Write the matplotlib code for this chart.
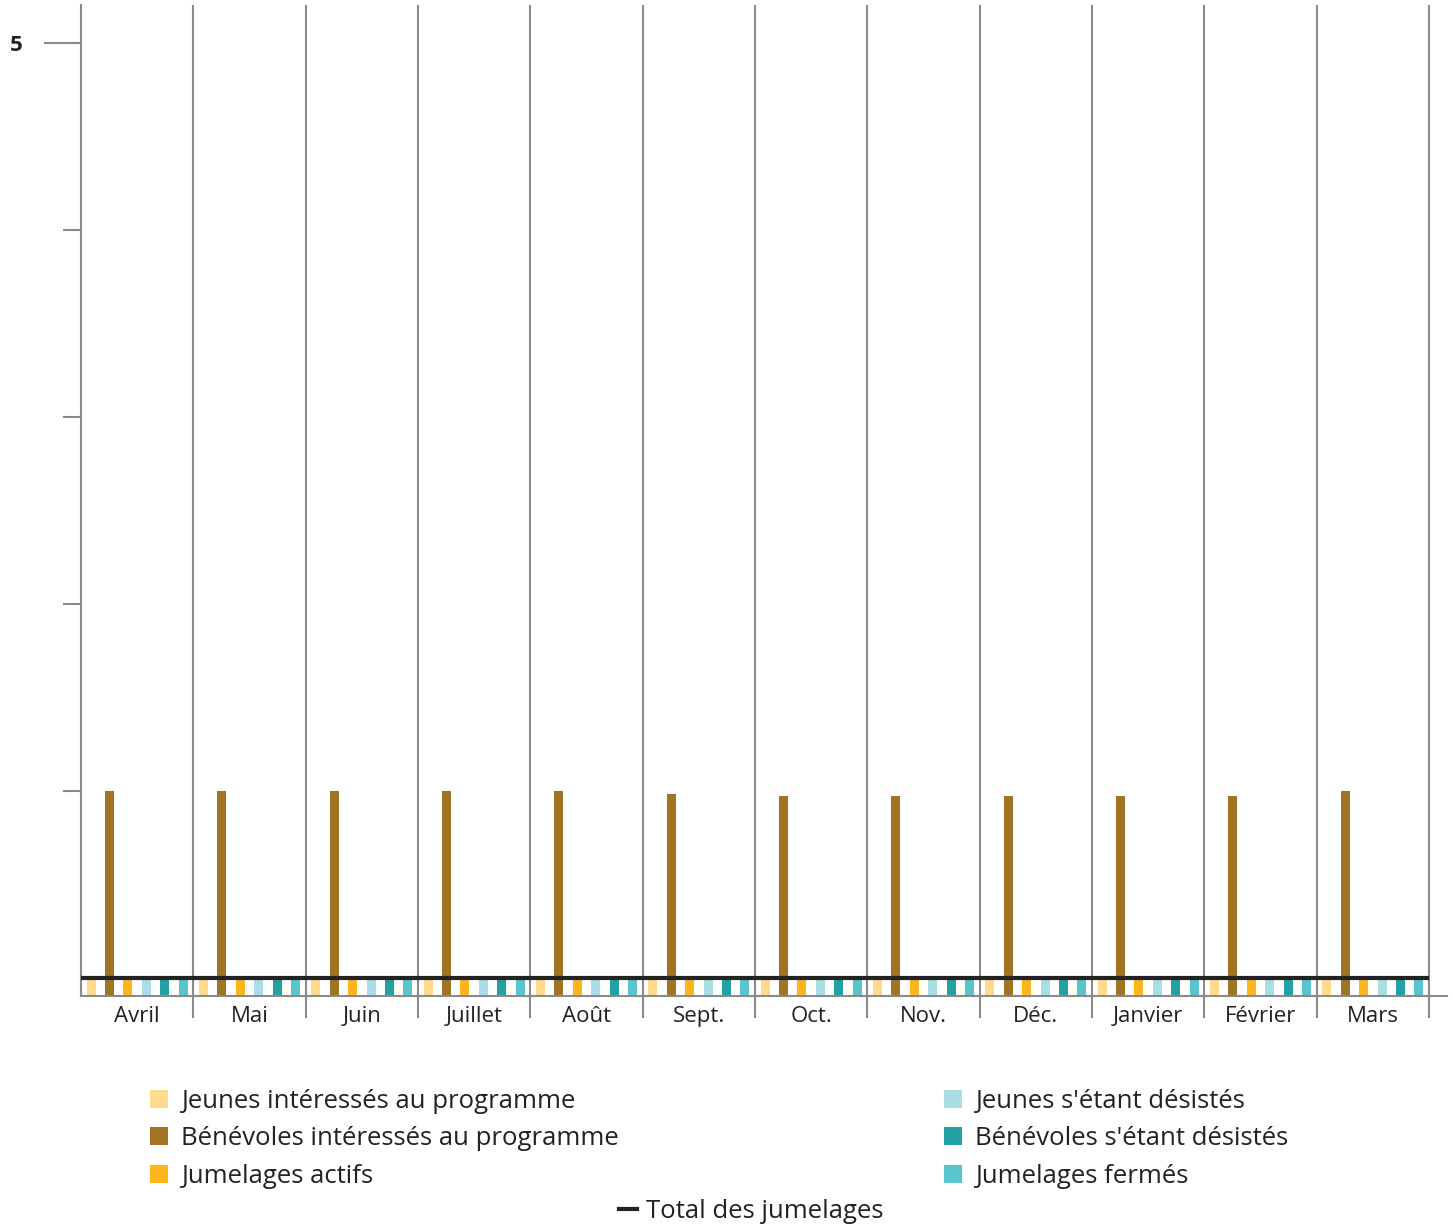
import numpy as np
import matplotlib
matplotlib.use("Agg")
import matplotlib.pyplot as plt
from matplotlib.patches import Patch
from matplotlib.lines import Line2D

plt.rcParams['font.family'] = ['Open Sans', 'DejaVu Sans']

months = ["Avril", "Mai", "Juin", "Juillet", "Août", "Sept.", "Oct.", "Nov.",
          "Déc.", "Janvier", "Février", "Mars"]
series_names = ["Jeunes intéressés au programme", "Bénévoles intéressés au programme",
                "Jumelages actifs", "Jeunes s'étant désistés",
                "Bénévoles s'étant désistés", "Jumelages fermés"]
jeunes_interesses = [0, 0, 0, 0, 0, 0, 0, 0, 0, 0, 0, 0]
benevoles_interesses = [1, 1, 1, 1, 1, 0.985, 0.975, 0.975, 0.975, 0.975, 0.975, 1]
jumelages_actifs = [0, 0, 0, 0, 0, 0, 0, 0, 0, 0, 0, 0]
jeunes_desistes = [0, 0, 0, 0, 0, 0, 0, 0, 0, 0, 0, 0]
benevoles_desistes = [0, 0, 0, 0, 0, 0, 0, 0, 0, 0, 0, 0]
jumelages_fermes = [0, 0, 0, 0, 0, 0, 0, 0, 0, 0, 0, 0]
total_jumelages = [0, 0, 0, 0, 0, 0, 0, 0, 0, 0, 0, 0]

colors = ["#FEDA8F", "#A07424", "#FDB51C", "#AADDE4", "#23A0A1", "#58C6CC"]
grey = "#8a8a8a"
dark = "#222222"

series = [jeunes_interesses, benevoles_interesses, jumelages_actifs,
          jeunes_desistes, benevoles_desistes, jumelages_fermes]

fig = plt.figure(figsize=(14.53, 12.28), dpi=100)
ax = fig.add_axes([81 / 1453, 1 - 996 / 1228, (1447 - 81) / 1453, (996 - 5) / 1228])

ymin, ymax = -0.096, 5.203
x = np.arange(len(months))
slot = 0.164
bw = 0.08
for i, (vals, c) in enumerate(zip(series, colors)):
    v = np.array(vals, dtype=float)
    ax.bar(x + (i - 2.5) * slot, v - ymin, bottom=ymin, width=bw, color=c, zorder=2)

# total line spans the full category range
xt = np.r_[x[0] - 0.5, x, x[-1] + 0.5]
yt = np.r_[total_jumelages[0], total_jumelages, total_jumelages[-1]]
ax.plot(xt, yt, color=dark, lw=3, zorder=3, solid_capstyle="butt")

ax.set_xlim(-0.5, 11.5 + 18 / 112.33)
ax.set_ylim(ymin, ymax)

# category boundaries as gridlines + ticks below the axis
ax.set_xticks(np.arange(0.5, 12, 1))
ax.set_xticklabels([])
ax.tick_params(axis='x', which='major', length=16, width=1.5, color=grey, direction='out')
ax.set_xticks(x, minor=True)
ax.set_xticklabels(months, minor=True, fontsize=16, color=dark)
ax.tick_params(axis='x', which='minor', length=0, pad=7.5)
ax.grid(axis='x', which='major', color=grey, lw=1.5, zorder=0)

ax.set_yticks([5])
ax.set_yticklabels(["5"], fontsize=16, fontweight='bold', color=dark)
ax.tick_params(axis='y', which='major', length=27, width=1.5, color=grey, pad=15)
ax.set_yticks([1, 2, 3, 4], minor=True)
ax.tick_params(axis='y', which='minor', length=13, width=1.5, color=grey)

for s in ["top", "right"]:
    ax.spines[s].set_visible(False)
for s in ["left", "bottom"]:
    ax.spines[s].set_color(grey)
    ax.spines[s].set_linewidth(1.5)

handles = [Patch(facecolor=c, edgecolor='none') for c in colors]
leg1 = fig.legend(handles, series_names, loc='upper left', ncol=2,
                  bbox_to_anchor=(150 / 1453, 1 - 1089 / 1228), frameon=False,
                  borderpad=0, borderaxespad=0,
                  fontsize=18.5, handlelength=0.7, handleheight=0.7, handletextpad=0.5,
                  labelspacing=0.48, columnspacing=12.67)
for t in leg1.get_texts():
    t.set_color(dark)
leg2 = fig.legend([Line2D([0], [0], color=dark, lw=3)], ["Total des jumelages"],
                  loc='center', bbox_to_anchor=(751 / 1453, 1 - 1211 / 1228), frameon=False,
                  borderpad=0, borderaxespad=0,
                  fontsize=18.5, handlelength=0.7, handletextpad=0.35)
for t in leg2.get_texts():
    t.set_color(dark)

fig.savefig("out.png", dpi=100)
